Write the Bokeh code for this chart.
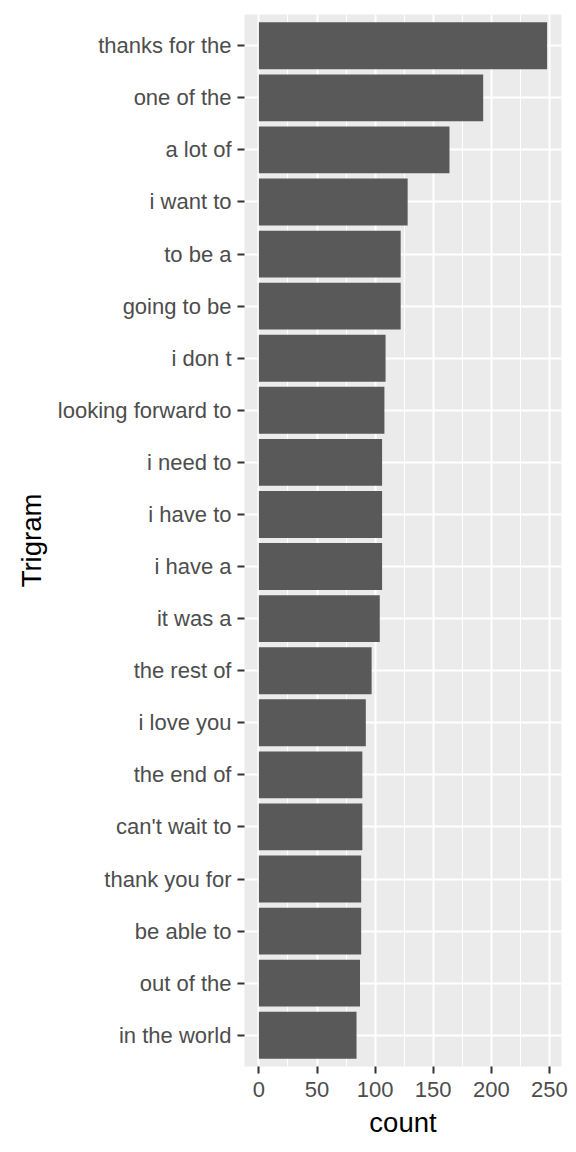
from bokeh.plotting import figure
from bokeh.models import FactorRange, Range1d, SingleIntervalTicker, ColumnDataSource
from bokeh.embed import file_html
from bokeh.resources import INLINE

trigrams = ["thanks for the", "one of the", "a lot of", "i want to", "to be a",
            "going to be", "i don t", "looking forward to", "i need to", "i have to",
            "i have a", "it was a", "the rest of", "i love you", "the end of",
            "can't wait to", "thank you for", "be able to", "out of the", "in the world"]
counts = [248, 193, 164, 128, 122, 122, 109, 108, 106, 106,
          106, 104, 97, 92, 89, 89, 88, 88, 87, 84]

factors = list(reversed(trigrams))
src = ColumnDataSource(dict(trigram=trigrams, count=counts))

FONT = "Liberation Sans"

p = figure(width=576, height=1152, output_backend="svg", toolbar_location=None,
           y_range=FactorRange(factors=factors, range_padding=0.1, range_padding_units="absolute"),
           x_range=Range1d(-12.4, 260.4),
           min_border_left=244, min_border_right=15, min_border_top=14, min_border_bottom=86)

p.hbar(y="trigram", right="count", left=0, height=0.9, source=src,
       fill_color="#595959", line_color=None)

p.background_fill_color = "#EBEBEB"
p.border_fill_color = "white"
p.outline_line_color = None

p.xaxis.ticker = SingleIntervalTicker(interval=50, num_minor_ticks=2)
p.xgrid.grid_line_color = "white"
p.xgrid.grid_line_width = 2
p.xgrid.minor_grid_line_color = "white"
p.xgrid.minor_grid_line_width = 1
p.ygrid.grid_line_color = "white"
p.ygrid.grid_line_width = 2

for ax in (p.xaxis, p.yaxis):
    ax.axis_line_color = None
    ax.major_tick_in = 0
    ax.major_tick_out = 7
    ax.major_tick_line_color = "#333333"
    ax.major_tick_line_width = 2
    ax.minor_tick_line_color = None
    ax.major_label_text_font = FONT
    ax.major_label_text_font_size = "22px"
    ax.major_label_text_color = "#4D4D4D"
    ax.major_label_standoff = 6
    ax.axis_label_text_font = FONT
    ax.axis_label_text_font_size = "27.5px"
    ax.axis_label_text_font_style = "normal"
    ax.axis_label_text_color = "black"

p.xaxis.major_label_standoff = 8
p.xaxis.axis_label = "count"
p.xaxis.axis_label_standoff = 7
p.yaxis.axis_label = "Trigram"
p.yaxis.axis_label_standoff = 8

open("out.html", "w").write(file_html(p, INLINE))
